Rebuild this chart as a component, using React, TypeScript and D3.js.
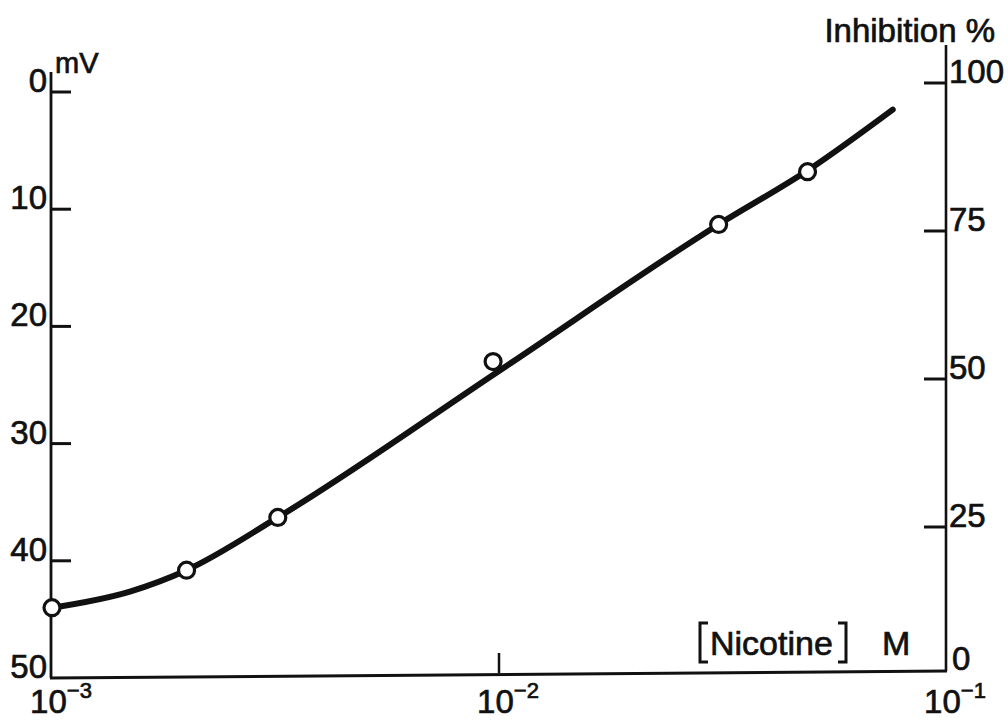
import React from "react";
import * as d3 from "d3";

// Measured points: nicotine concentration (M) vs depolarisation (mV)
const pointConc = [0.001, 0.002, 0.0032, 0.0097, 0.031, 0.049];
const pointMv = [44.0, 40.8, 36.3, 23.0, 11.3, 6.8];

// Hand-drawn fitted curve
const curveConc = [0.001, 0.0015, 0.002, 0.0032, 0.01, 0.031, 0.049, 0.076];
const curveMv = [44.0, 42.6, 40.8, 36.3, 23.8, 11.3, 6.7, 1.5];

const leftTicks = [0, 10, 20, 30, 40, 50];
const rightTicks = [0, 25, 50, 75, 100];
const xTicks = [0.001, 0.01, 0.1];
const xExponents = ["3", "2", "1"];

const FONT = "'Liberation Sans', Arial, Helvetica, sans-serif";

export default function App() {
  const x = d3.scaleLog().domain([1e-3, 1e-1]).range([52, 946]);
  const yL = d3.scaleLinear().domain([0, 50]).range([92, 678]);
  const yR = d3.scaleLinear().domain([0, 100]).range([675, 83]);

  const curveData = curveConc.map((c, i) => ({ c, v: curveMv[i] }));
  const line = d3
    .line<{ c: number; v: number }>()
    .x((d) => x(d.c))
    .y((d) => yL(d.v))
    .curve(d3.curveMonotoneX);

  const leftX = 51;
  const rightX = 946;
  const ink = "#111";
  const textStroke = { stroke: ink, strokeWidth: 0.7 };

  return (
    <svg
      width={1008}
      height={720}
      style={{ position: "absolute", left: 0, top: 0, display: "block", background: "#fff" }}
      fontFamily={FONT}
    >
      <rect x={0} y={0} width={1008} height={720} fill="#fff" />
      {/* axes */}
      <line x1={leftX} y1={72} x2={leftX} y2={678} stroke={ink} strokeWidth={2.8} />
      <line x1={leftX - 1} y1={678} x2={rightX + 1} y2={671} stroke={ink} strokeWidth={3} />
      <line x1={rightX} y1={45} x2={rightX} y2={671} stroke={ink} strokeWidth={2.6} />

      {/* left ticks */}
      {leftTicks.map((t) => (
        <g key={"l" + t}>
          {t !== 50 && (
            <line x1={leftX} x2={leftX + 20} y1={yL(t)} y2={yL(t)} stroke={ink} strokeWidth={3} />
          )}
          <text x={47} y={yL(t)} textAnchor="end" fontSize={33} fill={ink} {...textStroke}>
            {t}
          </text>
        </g>
      ))}
      <text x={55} y={73} fontSize={29} fill={ink} {...textStroke}>
        mV
      </text>

      {/* right ticks */}
      {rightTicks.map((t) => (
        <g key={"r" + t}>
          {t !== 0 && (
            <line x1={rightX - 22} x2={rightX} y1={yR(t)} y2={yR(t)} stroke={ink} strokeWidth={3} />
          )}
          <text x={t === 0 ? 952 : 949} y={t === 0 ? 670 : yR(t)} fontSize={33} fill={ink} {...textStroke}>
            {t}
          </text>
        </g>
      ))}
      <text x={995} y={42} textAnchor="end" fontSize={33} fill={ink} {...textStroke}>
        Inhibition %
      </text>

      {/* x ticks */}
      {xTicks.map((t, i) => (
        <g key={"x" + t}>
          {i === 1 && (
            <line x1={x(t)} x2={x(t)} y1={673} y2={653} stroke={ink} strokeWidth={2.5} />
          )}
          <text x={x(t) + 9} y={713} textAnchor="middle" fontSize={33} fill={ink} {...textStroke}>
            10
            <tspan fontSize={22} dy={-15}>
              −{xExponents[i]}
            </tspan>
          </text>
        </g>
      ))}

      {/* [Nicotine] M */}
      <path d="M708,623 H700 V662 H708" fill="none" stroke={ink} strokeWidth={3} />
      <text x={710} y={655} fontSize={34} fill={ink} {...textStroke}>
        Nicotine
      </text>
      <path d="M838,623 H846 V662 H838" fill="none" stroke={ink} strokeWidth={3} />
      <text x={882} y={655} fontSize={34} fill={ink} {...textStroke}>
        M
      </text>

      {/* fitted curve */}
      <path d={line(curveData) || ""} fill="none" stroke={ink} strokeWidth={6} strokeLinecap="round" />

      {/* data points */}
      {pointConc.map((c, i) => (
        <circle key={"p" + i} cx={x(c)} cy={yL(pointMv[i])} r={8} fill="#fff" stroke={ink} strokeWidth={3.2} />
      ))}
    </svg>
  );
}
